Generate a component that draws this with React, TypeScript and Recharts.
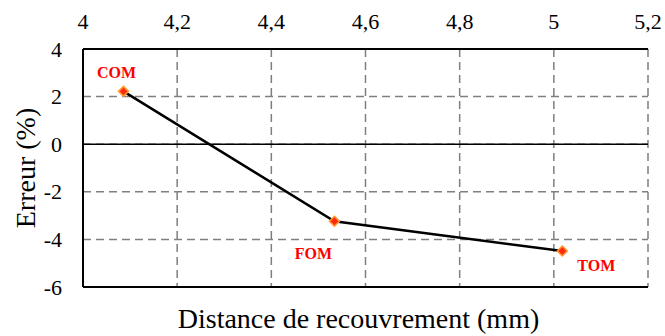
import { LineChart, Line, XAxis, YAxis, CartesianGrid, ReferenceLine, Label } from 'recharts';

const names = ['COM', 'FOM', 'TOM'];
const distance = [4.086, 4.534, 5.018];
const erreur = [2.22, -3.24, -4.49];
const xTicks = [4, 4.2, 4.4, 4.6, 4.8, 5, 5.2];
const yTicks = [-6, -4, -2, 0, 2, 4];

const data = names.map((name, i) => ({ name, x: distance[i], y: erreur[i] }));

// label placement relative to each point
const LABEL_OFFSET: Record<string, [number, number]> = {
	COM: [-7, -13],
	FOM: [-21, 38],
	TOM: [34, 20],
};

const SERIF = '"Liberation Serif", "Times New Roman", serif';
const fmt = (v: number) => String(v).replace('.', ',');

const TopTick = (props: any) => {
	const { x, y, payload } = props;
	return (
		<text x={x} y={y} dy={-20} textAnchor="middle" fill="#000" style={{ fontFamily: SERIF, fontSize: 22 }}>
			{fmt(payload.value)}
		</text>
	);
};

const LeftTick = (props: any) => {
	const { x, y, payload } = props;
	return (
		<text x={x} y={y} dx={-21} dy={7.5} textAnchor="end" fill="#000" style={{ fontFamily: SERIF, fontSize: 22 }}>
			{payload.value}
		</text>
	);
};

const Diamond = (props: any) => {
	const { cx, cy, payload } = props;
	if (cx == null || cy == null) return null;
	const r = 5;
	const [dx, dy] = LABEL_OFFSET[payload.name] || [0, 0];
	return (
		<g>
			<polygon
				points={`${cx},${cy - r} ${cx + r},${cy} ${cx},${cy + r} ${cx - r},${cy}`}
				fill="#ff2a10"
				stroke="#ff9a30"
				strokeWidth={1.5}
			/>
			<text
				x={cx + dx}
				y={cy + dy}
				textAnchor="middle"
				fill="#ff0000"
				style={{ fontFamily: SERIF, fontWeight: 'bold', fontSize: 16 }}
			>
				{payload.name}
			</text>
		</g>
	);
};

export default function App() {
	return (
		<div style={{ position: 'fixed', left: 0, top: 0, background: '#fff', fontFamily: SERIF }}>
			<LineChart width={665} height={336} data={data} margin={{ top: 0, right: 17, bottom: 0, left: 0 }}>
				<CartesianGrid stroke="#7f7f7f" strokeDasharray="8 5" strokeWidth={1.5} horizontalValues={yTicks} verticalValues={xTicks} />
				<XAxis
					type="number"
					dataKey="x"
					orientation="top"
					domain={[4, 5.2]}
					ticks={xTicks}
					height={49}
					tickSize={0}
					tickMargin={0}
					tickLine={false}
					axisLine={{ stroke: '#000', strokeWidth: 2 }}
					tick={<TopTick />}
					interval={0}
				/>
				<XAxis
					xAxisId="bottom"
					type="number"
					dataKey="x"
					orientation="bottom"
					domain={[4, 5.2]}
					ticks={xTicks}
					height={49}
					tick={false}
					tickLine={false}
					axisLine={{ stroke: '#000', strokeWidth: 2 }}
				>
					<Label value="Distance de recouvrement (mm)" position="insideBottom" offset={8} dx={-7} fill="#000" fontSize={28} fontFamily={SERIF} />
				</XAxis>
				<YAxis
					type="number"
					domain={[-6, 4]}
					ticks={yTicks}
					width={83}
					tickSize={0}
					tickMargin={0}
					tickLine={false}
					axisLine={{ stroke: '#000', strokeWidth: 2 }}
					tick={<LeftTick />}
					interval={0}
				>
					<Label value="Erreur (%)" angle={-90} position="insideLeft" offset={25} fill="#000" fontSize={28} fontFamily={SERIF} style={{ textAnchor: 'middle' }} />
				</YAxis>
				<YAxis
					yAxisId="right"
					orientation="right"
					type="number"
					domain={[-6, 4]}
					width={0}
					tick={false}
					tickLine={false}
					axisLine={{ stroke: '#000', strokeWidth: 2 }}
				/>
				<ReferenceLine y={0} stroke="#000" strokeWidth={1.5} />
				<Line
					type="linear"
					dataKey="y"
					stroke="#000"
					strokeWidth={2.5}
					dot={<Diamond />}
					activeDot={false}
					isAnimationActive={false}
				/>
			</LineChart>
		</div>
	);
}
